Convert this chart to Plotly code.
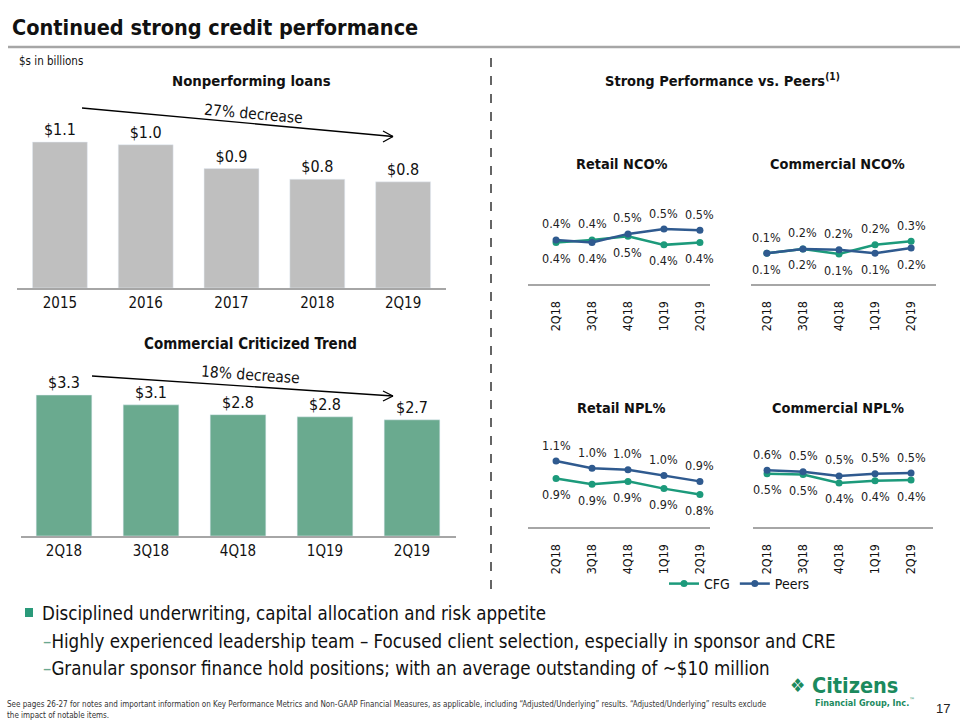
import plotly.graph_objects as go

# ---------------- data ----------------
npl_years = ["2015", "2016", "2017", "2018", "2Q19"]
npl_values = [1.10, 1.08, 0.90, 0.82, 0.80]
npl_labels = ["$1.1", "$1.0", "$0.9", "$0.8", "$0.8"]

crit_quarters = ["2Q18", "3Q18", "4Q18", "1Q19", "2Q19"]
crit_values = [3.30, 3.07, 2.84, 2.79, 2.72]
crit_labels = ["$3.3", "$3.1", "$2.8", "$2.8", "$2.7"]

quarters = ["2Q18", "3Q18", "4Q18", "1Q19", "2Q19"]
retail_nco_cfg = [0.41, 0.43, 0.46, 0.39, 0.41]
retail_nco_peers = [0.43, 0.41, 0.48, 0.52, 0.51]
comm_nco_cfg = [0.13, 0.18, 0.12, 0.23, 0.27]
comm_nco_peers = [0.13, 0.18, 0.17, 0.13, 0.19]
retail_npl_cfg = [0.94, 0.90, 0.92, 0.87, 0.83]
retail_npl_peers = [1.06, 1.01, 1.00, 0.96, 0.92]
comm_npl_cfg = [0.51, 0.50, 0.38, 0.41, 0.42]
comm_npl_peers = [0.56, 0.54, 0.48, 0.51, 0.52]

# ---------------- style ----------------
FONT = "DejaVu Sans Condensed, DejaVu Sans, sans-serif"
NARROW = "Liberation Sans Narrow, DejaVu Sans Condensed, sans-serif"
CFG_C = "#1c9a7b"
PEER_C = "#2f5a8f"
GRAY_BAR = "#bfbfbf"
GREEN_BAR = "#6aaa8f"
LOGO_C = "#1b8a5e"
TXT = "#111111"


def px(x):
    return x / 960.0


def py(y):
    return 1 - y / 720.0


fig = go.Figure()

# ---- bar chart 1: Nonperforming loans ----
fig.add_trace(go.Bar(
    x=npl_years, y=npl_values, text=npl_labels, textposition="outside",
    marker_color=GRAY_BAR, textfont=dict(size=16, color=TXT, family=FONT),
    cliponaxis=False, xaxis="x", yaxis="y", showlegend=False, hoverinfo="skip"))

# ---- bar chart 2: Commercial criticized ----
fig.add_trace(go.Bar(
    x=crit_quarters, y=crit_values, text=crit_labels, textposition="outside",
    marker_color=GREEN_BAR, textfont=dict(size=16, color=TXT, family=FONT),
    cliponaxis=False, xaxis="x2", yaxis="y2", showlegend=False, hoverinfo="skip"))

small = [
    ("x3", "y3", retail_nco_cfg, retail_nco_peers),
    ("x4", "y4", comm_nco_cfg, comm_nco_peers),
    ("x5", "y5", retail_npl_cfg, retail_npl_peers),
    ("x6", "y6", comm_npl_cfg, comm_npl_peers),
]

annotations = []
for i, (xa, ya, cfg, peers) in enumerate(small):
    for name, vals, col in (("CFG", cfg, CFG_C), ("Peers", peers, PEER_C)):
        fig.add_trace(go.Scatter(
            x=quarters, y=vals, mode="lines+markers", name=name,
            line=dict(color=col, width=2.5), marker=dict(color=col, size=7),
            xaxis=xa, yaxis=ya, showlegend=(i == 0), legendgroup=name,
            cliponaxis=False, hoverinfo="skip"))
    for j, q in enumerate(quarters):
        c_hi = cfg[j] > peers[j]
        for vals, hi in ((cfg, c_hi), (peers, not c_hi)):
            annotations.append(dict(
                x=q, y=vals[j], xref=xa, yref=ya, text=f"{vals[j]:.1f}%",
                showarrow=False, yshift=16 if hi else -16,
                font=dict(size=12.5, color="#222", family=FONT)))

# ---------------- axes ----------------
axis_common = dict(showgrid=False, zeroline=False, fixedrange=True)
layout_axes = dict(
    xaxis=dict(domain=[px(17), px(446)], anchor="y", showline=True, linecolor="#a6a6a6",
               linewidth=1.5, tickfont=dict(size=15, color=TXT, family=FONT), ticks="",
               **axis_common),
    yaxis=dict(domain=[py(288), py(100)], range=[0, 1.417], anchor="x", visible=False,
               **axis_common),
    xaxis2=dict(domain=[px(20.5), px(455.5)], anchor="y2", showline=True, linecolor="#a6a6a6",
                linewidth=1.5, tickfont=dict(size=15, color=TXT, family=FONT), ticks="",
                **axis_common),
    yaxis2=dict(domain=[py(536), py(360)], range=[0, 4.12], anchor="x2", visible=False,
                **axis_common),
)
small_geom = [
    ("xaxis3", "yaxis3", "y3", "x3", (528, 710), (-0.78, 4.28), (284, 200), (0.069, 0.758)),
    ("xaxis4", "yaxis4", "y4", "x4", (751, 936), (-0.44, 4.69), (284, 200), (-0.234, 0.758)),
    ("xaxis5", "yaxis5", "y5", "x5", (528, 710), (-0.78, 4.28), (527, 443), (0.605, 1.185)),
    ("xaxis6", "yaxis6", "y6", "x6", (753, 933), (-0.39, 4.61), (527, 443), (-0.251, 0.951)),
]
for xk, yk, yref, xref, xd, xr, yd, yr in small_geom:
    layout_axes[xk] = dict(domain=[px(xd[0]), px(xd[1])], range=list(xr), anchor=yref,
                           type="category", showline=True, linecolor="#a6a6a6", linewidth=2,
                           tickangle=-90, ticks="", ticklabelstandoff=10,
                           tickfont=dict(size=12.5, color=TXT, family=FONT), **axis_common)
    layout_axes[yk] = dict(domain=[py(yd[0]), py(yd[1])], range=list(yr), anchor=xref,
                           visible=False, **axis_common)

# ---------------- text ----------------
def txt(x, y, text, size, color=TXT, family=FONT, xanchor="center", angle=0):
    annotations.append(dict(x=px(x), y=py(y), xref="paper", yref="paper", text=text,
                            showarrow=False, xanchor=xanchor, yanchor="middle",
                            textangle=angle, font=dict(size=size, color=color, family=family)))

txt(10, 28, "<b>Continued strong credit performance</b>", 21.5, xanchor="left")
txt(17, 61, "$s in billions", 11.5, xanchor="left")
txt(251, 80, "<b>Nonperforming loans</b>", 14.8)
txt(250, 344, "<b>Commercial Criticized Trend</b>", 15)
txt(722, 80, "<b>Strong Performance vs. Peers<sup>(1)</sup></b>", 14.5)
txt(621, 164, "<b>Retail NCO%</b>", 14.4)
txt(837, 164, "<b>Commercial NCO%</b>", 14.4)
txt(621, 408, "<b>Retail NPL%</b>", 14.4)
txt(838, 408, "<b>Commercial NPL%</b>", 14.4)
txt(253, 114, "27% decrease", 15.5, angle=5)
txt(250, 375, "18% decrease", 15.5, angle=4)

txt(40, 613, "Disciplined underwriting, capital allocation and risk appetite", 18.6,
    family=NARROW, xanchor="left")
txt(41, 641, "<span style='color:#6aa890'>–</span>Highly experienced leadership team – "
    "Focused client selection, especially in sponsor and CRE", 18.6,
    family=NARROW, xanchor="left")
txt(41, 668, "<span style='color:#6aa890'>–</span>Granular sponsor finance hold positions; "
    "with an average outstanding of ~$10 million", 18.6, family=NARROW, xanchor="left")
txt(5, 704, "See pages 26-27 for notes and important information on Key Performance Metrics and "
    "Non-GAAP Financial Measures, as applicable, including “Adjusted/Underlying” results. "
    "“Adjusted/Underlying” results exclude", 8.0, color="#333", family=NARROW, xanchor="left")
txt(5, 715, "the impact of notable items.", 8.0, color="#333", family=NARROW, xanchor="left")
txt(797, 685, "❖", 19, color=LOGO_C)
txt(810, 685, "<b>Citizens</b>", 21.5, color=LOGO_C, family=FONT, xanchor="left")
txt(813, 702, "<b>Financial Group, Inc.</b><sup>™</sup>", 9, color=LOGO_C, family=FONT,
    xanchor="left")
txt(943, 708, "17", 13, color="#222", family="Liberation Sans, sans-serif")

# ---------------- shapes ----------------
def seg(x0, y0, x1, y1, color="#000", width=1.3, dash="solid"):
    return dict(type="line", xref="paper", yref="paper", x0=px(x0), y0=py(y0),
                x1=px(x1), y1=py(y1), line=dict(color=color, width=width, dash=dash))

shapes = [
    seg(8, 47, 960, 47, color="#a6a6a6", width=2.5),
    seg(491, 58, 491, 592, color="#333", width=1.5, dash="dash"),
    # arrows
    seg(82, 108, 393, 136.5), seg(383, 131, 393, 136.5), seg(383, 142, 393, 136.5),
    seg(92, 376, 393, 396), seg(383, 391, 393, 396), seg(383, 401, 393, 396),
    dict(type="rect", xref="paper", yref="paper", x0=px(25), x1=px(33), y0=py(617),
         y1=py(608), fillcolor="#2a9a7a", line=dict(width=0)),
]

fig.update_layout(
    width=960, height=720, margin=dict(l=0, r=0, t=0, b=0),
    paper_bgcolor="white", plot_bgcolor="white",
    barmode="group", bargap=0.36,
    font=dict(family=FONT, color=TXT),
    showlegend=True,
    legend=dict(orientation="h", x=px(664), y=py(584), xanchor="left", yanchor="middle",
                font=dict(size=14, color=TXT, family=FONT), bgcolor="rgba(0,0,0,0)",
                itemwidth=30, tracegroupgap=0),
    annotations=annotations, shapes=shapes,
    **layout_axes,
)

fig.write_html("out.html", config={"displayModeBar": False},
               post_script="document.body.style.margin='0';document.body.style.overflow='hidden';")
